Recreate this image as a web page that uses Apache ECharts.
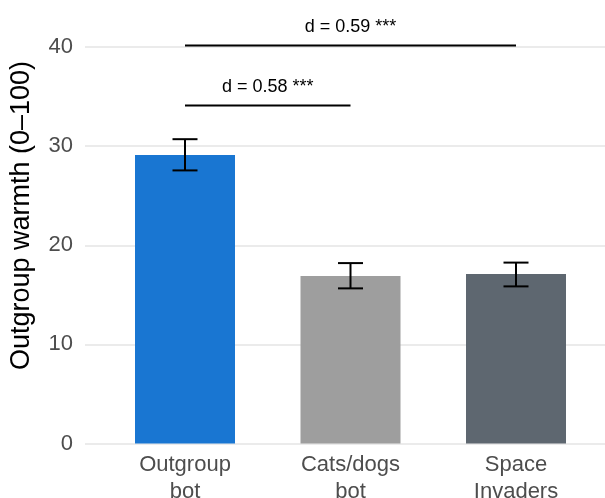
<!DOCTYPE html>
<html>
<head>
<meta charset="utf-8">
<script src="https://cdn.jsdelivr.net/npm/echarts@6/dist/echarts.min.js"></script>
<style>
html,body{margin:0;padding:0;background:#fff;}
#chart{width:605px;height:498px;}
</style>
</head>
<body>
<div id="chart"></div>
<script>
const categories = ['Outgroup\nbot', 'Cats/dogs\nbot', 'Space\nInvaders'];
const means = [29.1, 16.9, 17.1];
const ciLow = [27.55, 15.65, 15.85];
const ciHigh = [30.7, 18.2, 18.25];
const barColors = ['#1976D2', '#9E9E9E', '#5E6770'];
const yMin = 0, yMax = 40, yStep = 10;
const bracketFrom = [0, 0];
const bracketTo = [2, 1];
const bracketY = [40.15, 34.1];
const bracketText = ['d = 0.59 ***', 'd = 0.58 ***'];
const yTitle = 'Outgroup warmth (0–100)';

const FONT = "'Liberation Sans', Arial, Helvetica, sans-serif";
const chart = echarts.init(document.getElementById('chart'));

const gridTop = 47, gridBottom = 54.5;

chart.setOption({
  animation: false,
  backgroundColor: '#ffffff',
  grid: [
    { left: 85, right: 0, top: gridTop, bottom: gridBottom, containLabel: false, outerBoundsMode: 'none' },
    { left: 102.25, right: 6.25, top: gridTop, bottom: gridBottom, containLabel: false, outerBoundsMode: 'none' }
  ],
  xAxis: [
    { gridIndex: 0, type: 'value', show: false, min: 0, max: 1 },
    { gridIndex: 1, type: 'category', data: categories,
      axisLine: { show: false }, axisTick: { show: false },
      axisLabel: { color: '#4d4d4d', fontSize: 22, fontFamily: FONT, lineHeight: 27, margin: 8, interval: 0 } }
  ],
  yAxis: [
    { gridIndex: 0, type: 'value', min: yMin, max: yMax, interval: yStep,
      axisLine: { show: false }, axisTick: { show: false },
      axisLabel: { color: '#4d4d4d', fontSize: 22, fontFamily: FONT, margin: 12 },
      splitLine: { lineStyle: { color: '#ebebeb', width: 2 } } },
    { gridIndex: 1, type: 'value', min: yMin, max: yMax, interval: yStep, show: false,
      splitLine: { show: false } }
  ],
  graphic: [{
    type: 'text',
    x: 22, y: 215.5,
    rotation: Math.PI / 2,
    style: { text: yTitle, fill: '#000', font: '27px ' + FONT, textAlign: 'center', textVerticalAlign: 'middle' }
  }],
  series: [
    {
      type: 'bar', xAxisIndex: 1, yAxisIndex: 1, barWidth: 100,
      data: means.map((v, i) => ({ value: v, itemStyle: { color: barColors[i] } }))
    },
    {
      type: 'custom', xAxisIndex: 1, yAxisIndex: 1, z: 5,
      data: means.map((v, i) => [i, ciLow[i], ciHigh[i]]),
      renderItem: function (params, api) {
        const lo = api.coord([api.value(0), api.value(1)]);
        const hi = api.coord([api.value(0), api.value(2)]);
        const hw = 12.5;
        const st = { stroke: '#000', lineWidth: 2 };
        return { type: 'group', children: [
          { type: 'line', shape: { x1: lo[0], y1: lo[1], x2: hi[0], y2: hi[1] }, style: st },
          { type: 'line', shape: { x1: lo[0] - hw, y1: lo[1], x2: lo[0] + hw, y2: lo[1] }, style: st },
          { type: 'line', shape: { x1: hi[0] - hw, y1: hi[1], x2: hi[0] + hw, y2: hi[1] }, style: st }
        ]};
      }
    },
    {
      type: 'custom', xAxisIndex: 1, yAxisIndex: 1, z: 5,
      data: bracketY.map((y, i) => [bracketFrom[i], bracketTo[i], y, i]),
      renderItem: function (params, api) {
        const a = api.coord([api.value(0), api.value(2)]);
        const b = api.coord([api.value(1), api.value(2)]);
        const idx = api.value(3);
        return { type: 'group', children: [
          { type: 'line', shape: { x1: a[0], y1: a[1], x2: b[0], y2: b[1] }, style: { stroke: '#000', lineWidth: 2 } },
          { type: 'text', x: (a[0] + b[0]) / 2, y: a[1] - 9,
            style: { text: bracketText[idx], fill: '#000', font: '18px ' + FONT, textAlign: 'center', textVerticalAlign: 'bottom' } }
        ]};
      }
    }
  ]
});
</script>
</body>
</html>
